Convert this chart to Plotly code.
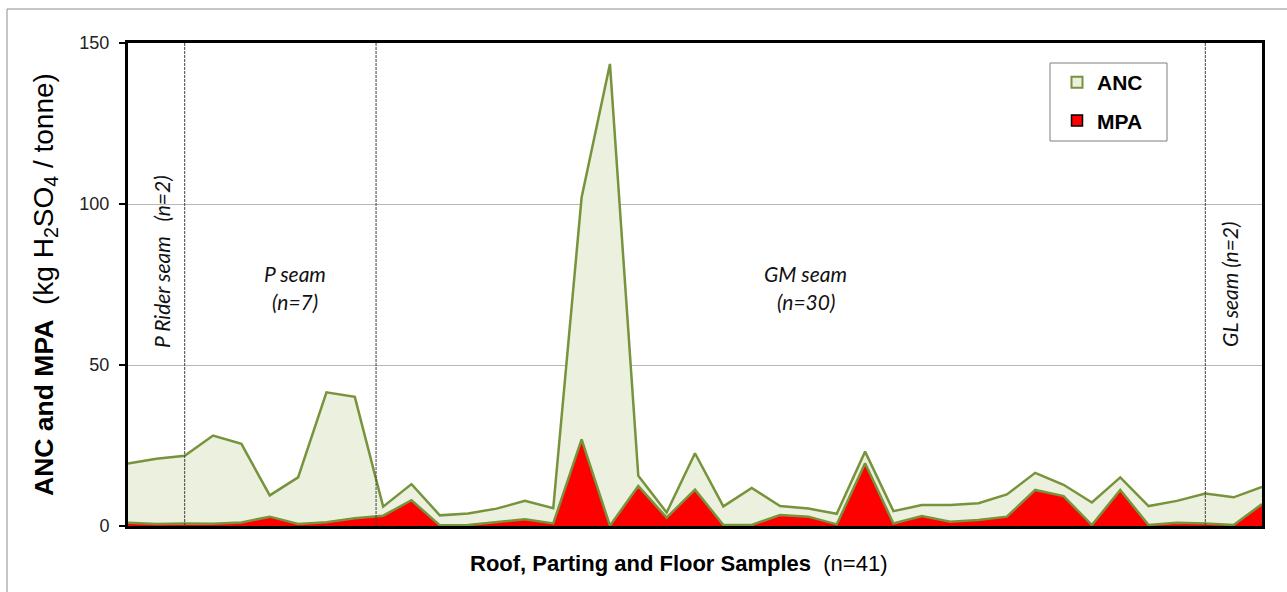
import plotly.graph_objects as go

samples = list(range(41))
anc = [19.4, 20.9, 21.8, 28.1, 25.5, 9.5, 15.1, 41.5, 40.1, 6.0, 13.0, 3.3, 3.9, 5.4, 7.8, 5.5,
       102.0, 143.5, 15.6, 4.2, 22.6, 6.1, 11.8, 6.2, 5.4, 3.8, 23.1, 4.6, 6.5, 6.5, 7.1, 9.8,
       16.5, 12.8, 7.3, 15.1, 6.2, 7.8, 10.1, 8.9, 12.1]
mpa = [1.0, 0.6, 0.8, 0.7, 1.1, 2.9, 0.6, 1.2, 2.4, 3.2, 8.0, 0.2, 0.3, 1.3, 2.1, 0.8,
       26.9, 0.1, 12.4, 2.6, 11.3, 0.3, 0.3, 3.4, 2.9, 0.5, 19.5, 0.8, 3.1, 1.3, 1.9, 2.9,
       11.2, 9.3, 0.3, 11.2, 0.3, 1.0, 0.8, 0.3, 6.8]
separators = [2, 8.75, 38]
y_ticks = [0, 50, 100, 150]

LINE = "#77933C"
ANC_FILL = "#EBF1DE"
MPA_FILL = "#FF0000"

# plot-area pixel geometry helpers (for placing paper-referenced decorations)
L, R, T, B = 128, 1262, 43, 526
def px(xp):
    return (xp - L) / (R - L)
def py(yp):
    return (B - yp) / (B - T)

fig = go.Figure()
fig.add_trace(go.Scatter(x=samples, y=anc, mode="lines", fill="tozeroy",
                         fillcolor=ANC_FILL, line=dict(color=LINE, width=2.5),
                         showlegend=False, name="ANC"))
fig.add_trace(go.Scatter(x=samples, y=mpa, mode="lines", fill="tozeroy",
                         fillcolor=MPA_FILL, line=dict(color=LINE, width=2.5),
                         showlegend=False, name="MPA"))
# legend entries
fig.add_trace(go.Scatter(x=[None], y=[None], mode="markers", name="<b>ANC</b>", legendgroup="a",
                         marker=dict(symbol="square", size=11, color=ANC_FILL,
                                     line=dict(color=LINE, width=2))))
fig.add_trace(go.Scatter(x=[None], y=[None], mode="markers", name="<b>MPA</b>", legendgroup="b",
                         marker=dict(symbol="square", size=11, color=MPA_FILL,
                                     line=dict(color="black", width=1.5))))

for s in separators:
    fig.add_shape(type="line", xref="x", yref="paper", x0=s, x1=s, y0=0, y1=1,
                  line=dict(color="#404040", width=1, dash="3px,1px"), layer="above")

# outer chart border
fig.add_shape(type="rect", xref="paper", yref="paper",
              x0=px(7), x1=px(1300), y0=py(600), y1=py(9),
              line=dict(color="#8C8C8C", width=1), layer="below")
# legend box
fig.add_shape(type="rect", xref="paper", yref="paper",
              x0=px(1050), x1=px(1167), y0=py(141), y1=py(63),
              line=dict(color="#7F7F7F", width=1), fillcolor="white", layer="above")

ann_font = dict(family="Lato, Open Sans, sans-serif", size=21, color="#111111")
fig.add_annotation(x=1.2, y=82, xref="x", yref="y", text="<i>P Rider seam   (n=2)</i>",
                   textangle=-90, showarrow=False, font=ann_font)
fig.add_annotation(x=5.9, y=78.5, xref="x", yref="y", text="<i>P seam</i>",
                   showarrow=False, font=ann_font)
fig.add_annotation(x=5.9, y=69.8, xref="x", yref="y", text="<i>(n=7)</i>",
                   showarrow=False, font=ann_font)
fig.add_annotation(x=23.9, y=78.5, xref="x", yref="y", text="<i>GM seam</i>",
                   showarrow=False, font=ann_font)
fig.add_annotation(x=23.9, y=69.8, xref="x", yref="y", text="<i>(n=30)</i>",
                   showarrow=False, font=ann_font)
fig.add_annotation(x=38.85, y=75, xref="x", yref="y", text="<i>GL seam (n=2)</i>",
                   textangle=-90, showarrow=False, font=ann_font)

# x-axis title
fig.add_annotation(x=px(678), y=py(563), xref="paper", yref="paper",
                   text="<b>Roof, Parting and Floor Samples</b>  (n=41)",
                   showarrow=False, xanchor="center", yanchor="middle",
                   font=dict(size=22, color="black", family="Liberation Sans, Arial, sans-serif"))

fig.update_layout(
    width=1287, height=592,
    margin=dict(l=L, r=1287 - R, t=T, b=592 - B),
    paper_bgcolor="white", plot_bgcolor="white",
    font=dict(family="Liberation Sans, Arial, sans-serif", color="#111111"),
    legend=dict(x=px(1057), y=py(62), xanchor="left", yanchor="top",
                borderwidth=0, bgcolor="rgba(0,0,0,0)",
                font=dict(size=21, family="Liberation Sans, Arial, sans-serif", color="black"),
                traceorder="grouped", tracegroupgap=8),
    xaxis=dict(range=[0, 40], showticklabels=False, ticks="", showgrid=False, zeroline=False,
               showline=True, linecolor="black", linewidth=3, mirror=True),
    yaxis=dict(range=[0, 150], tickvals=y_ticks, ticks="outside", ticklen=6, tickcolor="black",
               tickwidth=1.5, ticklabelstandoff=6,
               tickfont=dict(size=18, color="#222222"),
               showgrid=True, gridcolor="#B7B7B7", gridwidth=1, zeroline=False,
               showline=True, linecolor="black", linewidth=3, mirror=True,
               title=dict(text="<b>ANC and MPA</b>  <span style='font-size:28px'>(kg H<sub>2</sub>SO<sub>4</sub> / tonne)</span>",
                          font=dict(size=26.5, color="black"), standoff=19)),
)

fig.write_html("out.html")
